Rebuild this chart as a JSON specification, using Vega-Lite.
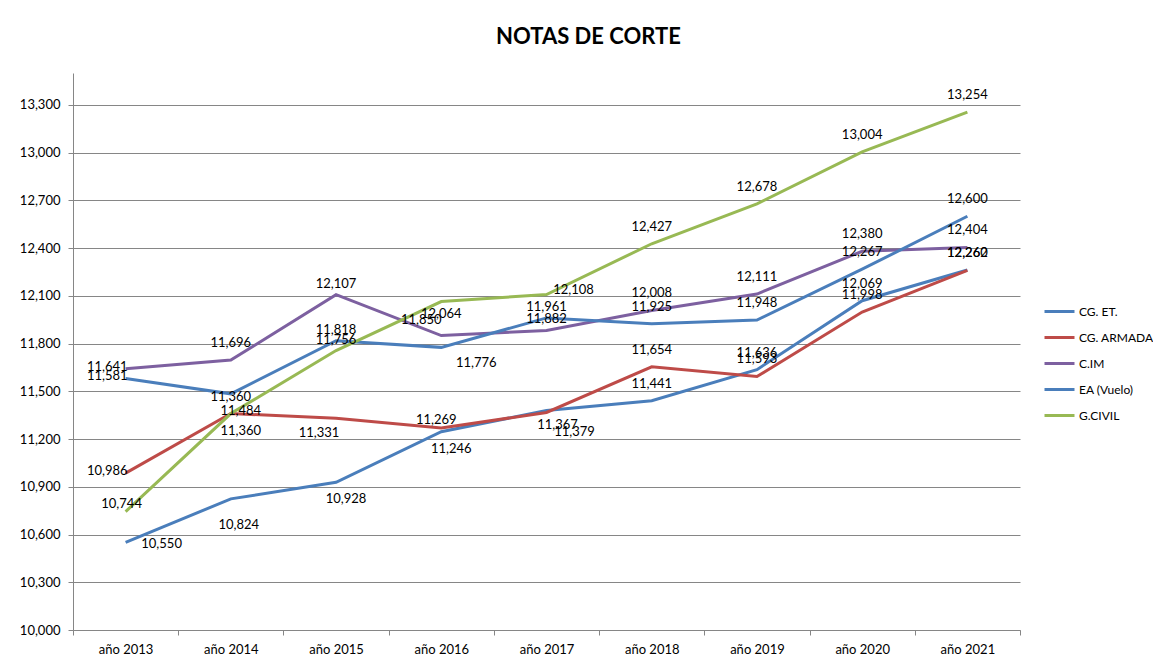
{
  "$schema": "https://vega.github.io/schema/vega-lite/v6.json",
  "width": 947,
  "height": 557,
  "autosize": {"type": "none"},
  "padding": {"left": 73, "top": 73, "right": 133, "bottom": 32},
  "background": "white",
  "title": {
    "text": "NOTAS DE CORTE",
    "font": "Lato",
    "fontSize": 22,
    "fontWeight": "bold",
    "color": "#000000",
    "anchor": "middle",
    "frame": "group",
    "dx": 42,
    "offset": 24
  },
  "data": {
    "values": [
      {"anio": "año 2013", "serie": "CG. ET.", "nota": 10.550},
      {"anio": "año 2014", "serie": "CG. ET.", "nota": 10.824},
      {"anio": "año 2015", "serie": "CG. ET.", "nota": 10.928},
      {"anio": "año 2016", "serie": "CG. ET.", "nota": 11.246},
      {"anio": "año 2017", "serie": "CG. ET.", "nota": 11.379},
      {"anio": "año 2018", "serie": "CG. ET.", "nota": 11.441},
      {"anio": "año 2019", "serie": "CG. ET.", "nota": 11.636},
      {"anio": "año 2020", "serie": "CG. ET.", "nota": 12.069},
      {"anio": "año 2021", "serie": "CG. ET.", "nota": 12.262},
      {"anio": "año 2013", "serie": "CG. ARMADA", "nota": 10.986},
      {"anio": "año 2014", "serie": "CG. ARMADA", "nota": 11.360},
      {"anio": "año 2015", "serie": "CG. ARMADA", "nota": 11.331},
      {"anio": "año 2016", "serie": "CG. ARMADA", "nota": 11.269},
      {"anio": "año 2017", "serie": "CG. ARMADA", "nota": 11.367},
      {"anio": "año 2018", "serie": "CG. ARMADA", "nota": 11.654},
      {"anio": "año 2019", "serie": "CG. ARMADA", "nota": 11.593},
      {"anio": "año 2020", "serie": "CG. ARMADA", "nota": 11.998},
      {"anio": "año 2021", "serie": "CG. ARMADA", "nota": 12.260},
      {"anio": "año 2013", "serie": "C.IM", "nota": 11.641},
      {"anio": "año 2014", "serie": "C.IM", "nota": 11.696},
      {"anio": "año 2015", "serie": "C.IM", "nota": 12.107},
      {"anio": "año 2016", "serie": "C.IM", "nota": 11.850},
      {"anio": "año 2017", "serie": "C.IM", "nota": 11.882},
      {"anio": "año 2018", "serie": "C.IM", "nota": 12.008},
      {"anio": "año 2019", "serie": "C.IM", "nota": 12.111},
      {"anio": "año 2020", "serie": "C.IM", "nota": 12.380},
      {"anio": "año 2021", "serie": "C.IM", "nota": 12.404},
      {"anio": "año 2013", "serie": "EA (Vuelo)", "nota": 11.581},
      {"anio": "año 2014", "serie": "EA (Vuelo)", "nota": 11.484},
      {"anio": "año 2015", "serie": "EA (Vuelo)", "nota": 11.818},
      {"anio": "año 2016", "serie": "EA (Vuelo)", "nota": 11.776},
      {"anio": "año 2017", "serie": "EA (Vuelo)", "nota": 11.961},
      {"anio": "año 2018", "serie": "EA (Vuelo)", "nota": 11.925},
      {"anio": "año 2019", "serie": "EA (Vuelo)", "nota": 11.948},
      {"anio": "año 2020", "serie": "EA (Vuelo)", "nota": 12.267},
      {"anio": "año 2021", "serie": "EA (Vuelo)", "nota": 12.600},
      {"anio": "año 2013", "serie": "G.CIVIL", "nota": 10.744},
      {"anio": "año 2014", "serie": "G.CIVIL", "nota": 11.360},
      {"anio": "año 2015", "serie": "G.CIVIL", "nota": 11.756},
      {"anio": "año 2016", "serie": "G.CIVIL", "nota": 12.064},
      {"anio": "año 2017", "serie": "G.CIVIL", "nota": 12.108},
      {"anio": "año 2018", "serie": "G.CIVIL", "nota": 12.427},
      {"anio": "año 2019", "serie": "G.CIVIL", "nota": 12.678},
      {"anio": "año 2020", "serie": "G.CIVIL", "nota": 13.004},
      {"anio": "año 2021", "serie": "G.CIVIL", "nota": 13.254}
    ]
  },
  "encoding": {
    "x": {
      "field": "anio",
      "type": "ordinal",
      "sort": null,
      "scale": {"type": "band", "paddingInner": 0, "paddingOuter": 0},
      "axis": {
        "title": null,
        "labelAngle": 0,
        "tickBand": "extent",
        "grid": false,
        "domainColor": "#868686",
        "tickColor": "#868686",
        "tickSize": 5,
        "labelPadding": 8,
        "labelFont": "Lato",
        "labelFontSize": 13,
        "labelColor": "#000000"
      }
    },
    "y": {
      "field": "nota",
      "type": "quantitative",
      "scale": {"domain": [10, 13.5], "nice": false, "zero": false},
      "axis": {
        "title": null,
        "values": [10, 10.3, 10.6, 10.9, 11.2, 11.5, 11.8, 12.1, 12.4, 12.7, 13.0, 13.3],
        "format": ".3f",
        "grid": true,
        "gridColor": "#868686",
        "gridWidth": 1,
        "domainColor": "#868686",
        "tickColor": "#868686",
        "tickSize": 5,
        "labelPadding": 8,
        "labelFont": "Lato",
        "labelFontSize": 13,
        "labelColor": "#000000"
      }
    }
  },
  "layer": [
    {
      "mark": {"type": "line", "strokeWidth": 3},
      "encoding": {
        "color": {
          "field": "serie",
          "type": "nominal",
          "scale": {
            "domain": ["CG. ET.", "CG. ARMADA", "C.IM", "EA (Vuelo)", "G.CIVIL"],
            "range": ["#4A7EBB", "#BE4B48", "#7D60A0", "#4A7EBB", "#98B954"]
          },
          "legend": {
            "title": null,
            "orient": "none",
            "legendX": 970,
            "legendY": 222,
            "padding": 0,
            "symbolType": "stroke",
            "symbolStrokeWidth": 3,
            "symbolSize": 900,
            "rowPadding": 3,
            "labelOffset": 3,
            "labelFont": "Lato",
            "labelFontSize": 12,
            "labelColor": "#000000"
          }
        }
      }
    },
    {
      "transform": [{"filter": "indexof(['EA (Vuelo)|año 2015','EA (Vuelo)|año 2017','C.IM|año 2015','C.IM|año 2017','G.CIVIL|año 2015','CG. ARMADA|año 2016','EA (Vuelo)|año 2013','C.IM|año 2013','CG. ARMADA|año 2013','EA (Vuelo)|año 2014','CG. ARMADA|año 2017','G.CIVIL|año 2014','CG. ET.|año 2015','CG. ET.|año 2016','CG. ET.|año 2014','CG. ARMADA|año 2015','EA (Vuelo)|año 2016','CG. ET.|año 2017','G.CIVIL|año 2017','G.CIVIL|año 2013','G.CIVIL|año 2016','C.IM|año 2016','CG. ET.|año 2013'], datum.serie + '|' + datum.anio) < 0"}],
      "mark": {"type": "text", "dy": -17, "font": "Lato", "fontSize": 13, "color": "#000000"},
      "encoding": {"text": {"field": "nota", "type": "quantitative", "format": ".3f"}}
    },
    {
      "transform": [{"filter": "indexof(['EA (Vuelo)|año 2015','EA (Vuelo)|año 2017','C.IM|año 2015','C.IM|año 2017','G.CIVIL|año 2015'], datum.serie + '|' + datum.anio) >= 0"}],
      "mark": {"type": "text", "dy": -11, "font": "Lato", "fontSize": 13, "color": "#000000"},
      "encoding": {"text": {"field": "nota", "type": "quantitative", "format": ".3f"}}
    },
    {
      "transform": [{"filter": "indexof(['CG. ARMADA|año 2016'], datum.serie + '|' + datum.anio) >= 0"}],
      "mark": {"type": "text", "dx": -5, "dy": -8, "font": "Lato", "fontSize": 13, "color": "#000000"},
      "encoding": {"text": {"field": "nota", "type": "quantitative", "format": ".3f"}}
    },
    {
      "transform": [{"filter": "indexof(['EA (Vuelo)|año 2013','C.IM|año 2013','CG. ARMADA|año 2013'], datum.serie + '|' + datum.anio) >= 0"}],
      "mark": {"type": "text", "align": "right", "dx": 2, "dy": -2, "font": "Lato", "fontSize": 13, "color": "#000000"},
      "encoding": {"text": {"field": "nota", "type": "quantitative", "format": ".3f"}}
    },
    {
      "transform": [{"filter": "indexof(['EA (Vuelo)|año 2014','G.CIVIL|año 2014','CG. ET.|año 2015','CG. ET.|año 2016'], datum.serie + '|' + datum.anio) >= 0"}],
      "mark": {"type": "text", "dx": 10, "dy": 17, "font": "Lato", "fontSize": 13, "color": "#000000"},
      "encoding": {"text": {"field": "nota", "type": "quantitative", "format": ".3f"}}
    },
    {
      "transform": [{"filter": "indexof(['CG. ARMADA|año 2017'], datum.serie + '|' + datum.anio) >= 0"}],
      "mark": {"type": "text", "dx": 11, "dy": 13, "font": "Lato", "fontSize": 13, "color": "#000000"},
      "encoding": {"text": {"field": "nota", "type": "quantitative", "format": ".3f"}}
    },
    {
      "transform": [{"filter": "indexof(['CG. ET.|año 2014'], datum.serie + '|' + datum.anio) >= 0"}],
      "mark": {"type": "text", "dx": 8, "dy": 26, "font": "Lato", "fontSize": 13, "color": "#000000"},
      "encoding": {"text": {"field": "nota", "type": "quantitative", "format": ".3f"}}
    },
    {
      "transform": [{"filter": "indexof(['CG. ARMADA|año 2015'], datum.serie + '|' + datum.anio) >= 0"}],
      "mark": {"type": "text", "dx": -17, "dy": 15, "font": "Lato", "fontSize": 13, "color": "#000000"},
      "encoding": {"text": {"field": "nota", "type": "quantitative", "format": ".3f"}}
    },
    {
      "transform": [{"filter": "indexof(['EA (Vuelo)|año 2016'], datum.serie + '|' + datum.anio) >= 0"}],
      "mark": {"type": "text", "dx": 35, "dy": 16, "font": "Lato", "fontSize": 13, "color": "#000000"},
      "encoding": {"text": {"field": "nota", "type": "quantitative", "format": ".3f"}}
    },
    {
      "transform": [{"filter": "indexof(['CG. ET.|año 2017'], datum.serie + '|' + datum.anio) >= 0"}],
      "mark": {"type": "text", "dx": 28, "dy": 21, "font": "Lato", "fontSize": 13, "color": "#000000"},
      "encoding": {"text": {"field": "nota", "type": "quantitative", "format": ".3f"}}
    },
    {
      "transform": [{"filter": "indexof(['G.CIVIL|año 2017'], datum.serie + '|' + datum.anio) >= 0"}],
      "mark": {"type": "text", "dx": 27, "dy": -5, "font": "Lato", "fontSize": 13, "color": "#000000"},
      "encoding": {"text": {"field": "nota", "type": "quantitative", "format": ".3f"}}
    },
    {
      "transform": [{"filter": "indexof(['G.CIVIL|año 2013'], datum.serie + '|' + datum.anio) >= 0"}],
      "mark": {"type": "text", "dx": -4, "dy": -8, "font": "Lato", "fontSize": 13, "color": "#000000"},
      "encoding": {"text": {"field": "nota", "type": "quantitative", "format": ".3f"}}
    },
    {
      "transform": [{"filter": "indexof(['G.CIVIL|año 2016'], datum.serie + '|' + datum.anio) >= 0"}],
      "mark": {"type": "text", "dx": 0, "dy": 12, "font": "Lato", "fontSize": 13, "color": "#000000"},
      "encoding": {"text": {"field": "nota", "type": "quantitative", "format": ".3f"}}
    },
    {
      "transform": [{"filter": "indexof(['C.IM|año 2016'], datum.serie + '|' + datum.anio) >= 0"}],
      "mark": {"type": "text", "dx": -20, "dy": -16, "font": "Lato", "fontSize": 13, "color": "#000000"},
      "encoding": {"text": {"field": "nota", "type": "quantitative", "format": ".3f"}}
    },
    {
      "transform": [{"filter": "indexof(['CG. ET.|año 2013'], datum.serie + '|' + datum.anio) >= 0"}],
      "mark": {"type": "text", "dx": 36, "dy": 2, "font": "Lato", "fontSize": 13, "color": "#000000"},
      "encoding": {"text": {"field": "nota", "type": "quantitative", "format": ".3f"}}
    }
  ],
  "config": {
    "locale": {
      "number": {"decimal": ",", "thousands": ".", "grouping": [3], "currency": ["", " €"]}
    },
    "view": {"stroke": null}
  }
}
